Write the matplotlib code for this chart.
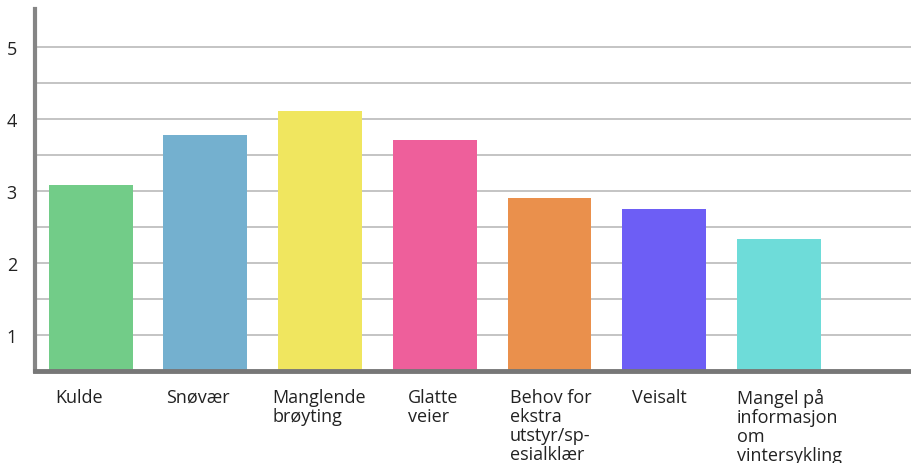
import matplotlib
matplotlib.use("Agg")
import matplotlib.pyplot as plt
import matplotlib.transforms as mtransforms
import numpy as np

categories = ["Kulde", "Snøvær", "Manglende\nbrøyting", "Glatte\nveier",
              "Behov for\nekstra\nutstyr/sp-\nesialklær", "Veisalt",
              "Mangel på\ninformasjon\nom\nvintersykling"]
values = [3.09, 3.78, 4.11, 3.71, 2.90, 2.75, 2.33]
colors = ["#72cc88", "#74b0cf", "#f0e65f", "#ee5f9b", "#ea904c", "#6d5ef5", "#6edcd9"]
yticks = [1, 2, 3, 4, 5]

plt.rcParams['font.family'] = ['Open Sans', 'DejaVu Sans']

fig = plt.figure(figsize=(9.12, 4.64), dpi=100)
ax = fig.add_axes([35/912, 92/464, 1 - 35/912, (372 - 10)/464])

x = np.arange(len(categories))
width = 0.73
ax.bar(x, values, width=width, color=colors, zorder=2)

ax.set_xlim(-0.485, 7.16)
ax.set_ylim(0.5, 5.53)

ax.set_yticks(yticks)
ax.set_yticklabels([str(t) for t in yticks], fontsize=13, color="#222222")
ax.set_yticks(np.arange(1.5, 5.5, 1.0), minor=True)
ax.tick_params(axis='y', which='both', length=0, pad=13)
ax.set_xticks([])
ax.grid(axis='y', which='both', color="#c4c4c4", linewidth=1.4, zorder=0)

for s in ['top', 'right']:
    ax.spines[s].set_visible(False)
ax.spines['left'].set_color("#858585")
ax.spines['left'].set_linewidth(3)
ax.spines['bottom'].set_color("#777777")
ax.spines['bottom'].set_linewidth(3.5)

trans = mtransforms.blended_transform_factory(ax.transData, ax.transAxes)
label_dx_px = [6, 3, -6, 15, 2, 10, 0]
for i, lab in enumerate(categories):
    offset = mtransforms.ScaledTranslation(label_dx_px[i]/100, -17/100, fig.dpi_scale_trans)
    ax.text(x[i] - width/2, 0, lab, transform=trans + offset, ha='left', va='top',
            fontsize=13, color="#222222", linespacing=1.08)

fig.savefig("out.png", dpi=100)
